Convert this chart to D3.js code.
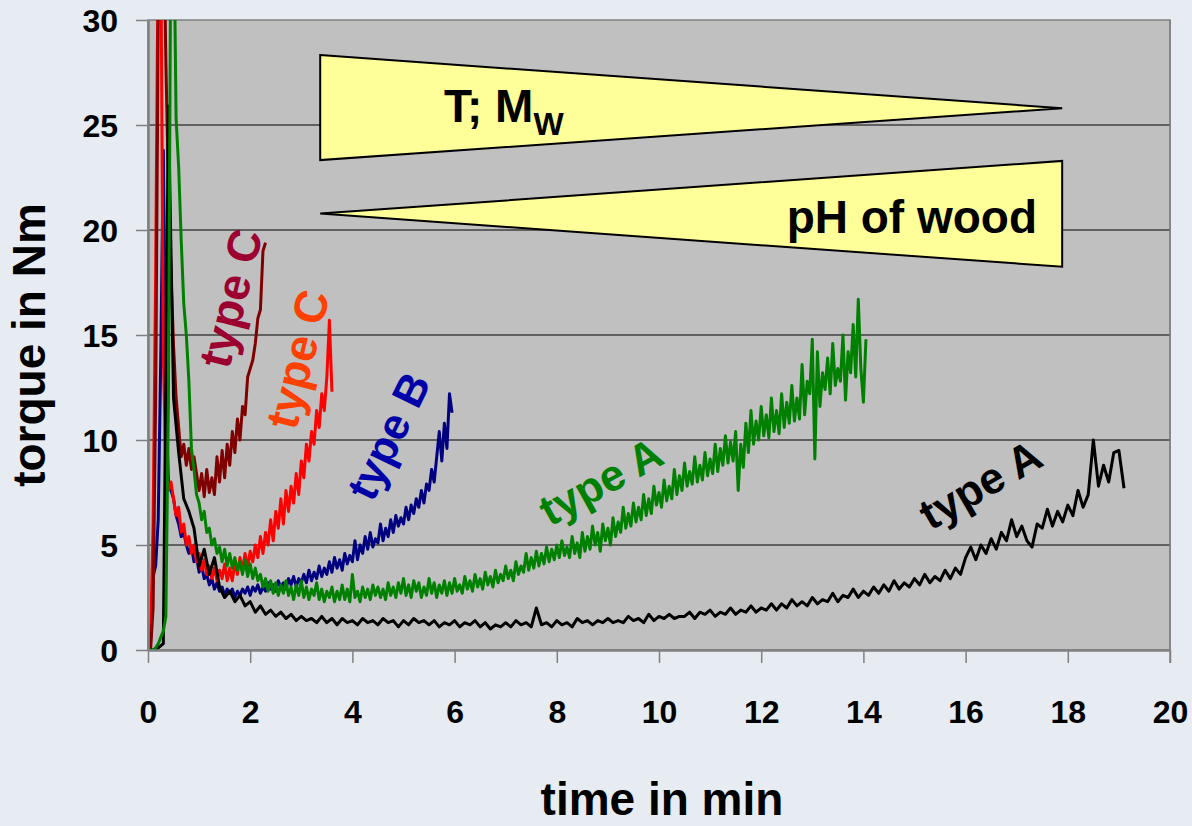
<!DOCTYPE html>
<html>
<head>
<meta charset="utf-8">
<script src="https://cdn.jsdelivr.net/npm/d3@7"></script>
<style>
  html, body { margin: 0; padding: 0; background: #e6ecf1; }
  svg { display: block; font-family: "Liberation Sans", Arial, sans-serif; font-weight: bold; }
</style>
</head>
<body>
<div id="chart"></div>
<script>
// torque readings in Nm, sampled every STEP_FINE / STEP_COARSE minutes from t = 0
const STEP_FINE = 0.05;
const STEP_COARSE = 0.1;

const redTypeC = [0, 0.5, 6, 18, 34, 34, 14, 8.5, 7.6, 8.0, 7.2, 6.4, 6.8, 5.6, 6.0, 5.0,
  5.4, 4.6, 5.0, 4.2, 4.6, 3.8, 4.3, 3.6, 4.0, 3.4, 3.9, 3.3, 3.8, 3.4, 4.1, 3.3, 3.9, 3.3,
  4.2, 3.6, 4.4, 3.8, 4.6, 3.9, 4.7, 4.2, 5.0, 4.4, 5.4, 4.6, 5.6, 5.0, 6.2, 5.2, 6.6, 5.8,
  7.2, 6.0, 7.6, 6.6, 7.8, 7.0, 8.4, 7.4, 9.0, 8.2, 9.8, 9.0, 10.4, 9.8, 11.4, 10.6, 12.2,
  11.4, 13.0, 15.7, 12.3];

const darkRedTypeC = [0, 0, 2, 12, 30, 36, 36, 28, 22, 18, 14.5, 12.0, 10.6, 9.2, 9.8, 8.8,
  9.6, 8.6, 9.2, 8.4, 7.6, 8.4, 7.3, 8.6, 7.5, 8.2, 7.4, 9.2, 8.0, 9.5, 8.2, 9.8, 8.8, 10.4,
  9.4, 11.0, 10.0, 11.6, 11.2, 13.0, 13.4, 13.8, 14.6, 15.8, 16.2, 19.0, 19.4];

const navyTypeB = [0, 0.3, 3.5, 4.0, 6.2, 14, 23.8, 12, 8.0, 7.6, 7.2, 6.4, 6.0, 5.4, 5.6,
  5.0, 4.6, 4.9, 4.2, 4.4, 3.7, 4.0, 3.4, 3.6, 3.1, 3.4, 2.9, 3.2, 2.8, 3.0, 2.6, 2.9, 2.7,
  2.9, 2.5, 2.8, 2.6, 2.9, 2.7, 3.0, 2.6, 3.0, 2.8, 3.1, 2.7, 3.0, 2.8, 3.2, 2.9, 3.1, 2.8,
  3.3, 3.0, 3.2, 2.9, 3.4, 3.1, 3.5, 3.0, 3.4, 3.2, 3.6, 3.2, 3.8, 3.3, 3.7, 3.4, 4.0, 3.5,
  3.9, 3.6, 4.2, 3.7, 4.4, 3.9, 4.3, 3.8, 4.6, 4.1, 4.5, 4.2, 5.2, 4.3, 5.0, 4.6, 5.4, 4.8,
  5.6, 4.9, 5.3, 5.1, 6.0, 5.2, 5.8, 5.4, 6.2, 5.6, 6.4, 5.9, 6.3, 6.0, 6.8, 6.2, 6.9, 6.5,
  7.2, 6.8, 7.6, 7.0, 7.9, 7.6, 8.6, 8.0, 9.2, 10.4, 9.0, 10.8, 9.6, 12.2, 11.3];

const greenTypeA = [0, 0, 0, 0.1, 0.3, 0.6, 0.9, 1.6, 12, 36, 36, 25.3, 23, 19.5, 16.5, 15.0,
  12.8, 9.6, 8.6, 7.4, 7.0, 6.2, 6.6, 5.6, 5.8, 5.0, 5.3, 4.6, 4.9, 4.2, 4.8, 4.0, 4.6, 3.9,
  4.4, 3.8, 4.2, 3.6, 4.3, 3.5, 4.1, 3.4, 3.9, 3.3, 3.6, 3.0, 3.4, 2.8, 3.3, 2.7, 3.2, 2.6,
  3.1, 2.7, 3.3, 2.6, 3.0, 2.4, 3.1, 2.6, 3.3, 2.5, 3.0, 2.4, 2.9, 2.6, 3.2, 2.4, 2.9, 2.3,
  2.8, 2.5, 3.0, 2.3, 2.8, 2.4, 3.1, 2.4, 2.9, 2.3, 3.6, 2.5, 2.8, 2.3, 3.0, 2.5, 2.9, 2.4,
  3.1, 2.6, 3.0, 2.5, 2.9, 2.4, 3.2, 2.6, 3.0, 2.5, 3.2, 2.7, 3.4, 2.6, 3.1, 2.5, 3.3, 2.8,
  3.2, 2.5, 3.0, 2.6, 3.4, 2.7, 3.2, 2.5, 3.1, 2.7, 3.3, 2.6, 3.2, 2.7, 3.4, 2.8, 3.1, 2.7,
  3.5, 2.9, 3.3, 2.8, 3.6, 3.0, 3.4, 2.9, 3.7, 3.1, 3.5, 3.0, 3.8, 3.2, 3.6, 3.3, 4.0, 3.4,
  3.8, 3.3, 4.2, 3.6, 4.0, 3.7, 4.6, 3.8, 4.4, 3.9, 4.7, 4.0, 4.6, 4.1, 4.9, 4.2, 4.8, 4.3,
  5.0, 4.4, 5.2, 4.5, 4.9, 4.4, 5.4, 4.6, 5.1, 4.4, 5.6, 4.7, 5.4, 4.8, 5.9, 5.0, 5.6, 4.7,
  6.0, 5.2, 5.8, 5.0, 6.3, 5.4, 6.1, 5.6, 6.8, 5.8, 6.5, 5.9, 7.0, 6.1, 6.8, 6.2, 7.4, 6.4,
  7.2, 6.5, 7.8, 6.9, 7.5, 6.8, 8.1, 7.1, 7.8, 7.2, 8.6, 7.4, 8.3, 7.6, 8.9, 7.8, 8.5, 7.9,
  9.2, 8.0, 8.8, 8.1, 9.4, 8.3, 9.1, 8.4, 9.8, 8.5, 9.6, 8.8, 10.2, 8.9, 9.9, 9.0, 10.4, 7.6,
  9.8, 8.7, 10.8, 9.4, 11.4, 9.8, 10.9, 10.0, 11.6, 10.2, 11.2, 10.1, 12.0, 10.4, 11.4, 10.3,
  12.2, 10.6, 11.8, 10.8, 12.6, 10.9, 12.0, 11.0, 13.6, 11.2, 12.8, 12.2, 14.8, 9.1, 14.2,
  11.6, 13.2, 12.4, 13.9, 12.2, 14.6, 12.6, 13.4, 12.8, 15.0, 11.9, 14.2, 13.2, 15.5, 13.0,
  16.7, 13.4, 11.8, 14.8];

const blackTypeA = [0, 0, 0.1, 0.3, 25.9, 12, 9.4, 7.2, 6.6, 5.8, 4.0, 4.8, 3.6, 4.4, 3.0,
  2.5, 2.8, 2.3, 2.6, 2.1, 2.3, 1.8, 2.1, 1.7, 1.9, 1.6, 1.8, 1.5, 1.7, 1.4, 1.6, 1.4, 1.5,
  1.3, 1.6, 1.3, 1.5, 1.2, 1.5, 1.3, 1.4, 1.2, 1.5, 1.3, 1.4, 1.2, 1.5, 1.3, 1.4, 1.1, 1.4,
  1.2, 1.5, 1.3, 1.4, 1.2, 1.4, 1.1, 1.3, 1.2, 1.4, 1.1, 1.3, 1.2, 1.4, 1.1, 1.3, 1.0, 1.2,
  1.1, 1.3, 1.1, 1.4, 1.2, 1.3, 1.1, 2.0, 1.2, 1.3, 1.1, 1.4, 1.2, 1.3, 1.1, 1.5, 1.3, 1.4,
  1.2, 1.4, 1.3, 1.5, 1.3, 1.4, 1.3, 1.6, 1.4, 1.5, 1.3, 1.7, 1.4, 1.6, 1.5, 1.7, 1.5, 1.6,
  1.6, 1.8, 1.5, 1.8, 1.7, 1.9, 1.6, 1.8, 1.7, 2.0, 1.7, 1.9, 1.8, 2.1, 1.8, 2.0, 1.9, 2.2,
  1.9, 2.2, 2.0, 2.4, 2.1, 2.3, 2.1, 2.5, 2.2, 2.4, 2.3, 2.7, 2.3, 2.6, 2.5, 2.9, 2.5, 2.8,
  2.6, 3.0, 2.7, 3.1, 2.8, 3.3, 2.9, 3.2, 3.0, 3.4, 3.1, 3.6, 3.2, 3.5, 3.3, 3.8, 3.4, 3.9,
  3.6, 4.4, 4.9, 4.3, 5.0, 4.6, 5.3, 4.8, 5.6, 5.2, 6.2, 5.4, 5.9, 5.2, 4.9, 6.0, 5.8, 6.7,
  5.9, 6.6, 6.1, 6.9, 6.4, 7.6, 6.8, 7.4, 10.0, 7.8, 8.8, 8.0, 9.4, 9.5, 7.7];

// axis ticks
const xTicks = [0, 2, 4, 6, 8, 10, 12, 14, 16, 18, 20];
const yTicks = [0, 5, 10, 15, 20, 25, 30];

// wedge annotations, in data units [min, Nm]
const wedgeTop = [[3.37, 28.33], [17.89, 25.8], [3.37, 23.33]];
const wedgeBottom = [[3.37, 20.78], [17.89, 23.29], [17.89, 18.25]];

// curve labels: text, colour, position [min, Nm], angle, size
const curveLabels = [
  {text: "type C", color: "#9c0030", at: [1.7, 16.7], angle: -76, size: 46},
  {text: "type C", color: "#ff4000", at: [3.01, 13.8], angle: -76, size: 46},
  {text: "type B", color: "#0000a8", at: [4.78, 10.1], angle: -64, size: 44},
  {text: "type A", color: "#008000", at: [8.9, 7.85], angle: -29, size: 44},
  {text: "type A", color: "#000000", at: [16.33, 7.7], angle: -30, size: 44},
];

const WIDTH = 1192, HEIGHT = 826;
const margin = {left: 148, right: 22, top: 20, bottom: 176};

let svg = d3.select("#chart").append("svg")
  .attr("width", WIDTH).attr("height", HEIGHT);

svg.append("rect").attr("width", WIDTH).attr("height", HEIGHT).attr("fill", "#e6ecf1");

let x = d3.scaleLinear().domain([0, 20]).range([margin.left, WIDTH - margin.right]);
let y = d3.scaleLinear().domain([0, 30]).range([HEIGHT - margin.bottom, margin.top]);

// plot area
svg.append("rect")
  .attr("x", x(0)).attr("y", y(30))
  .attr("width", x(20) - x(0)).attr("height", y(0) - y(30))
  .attr("fill", "#c0c0c0").attr("stroke", "#808080").attr("stroke-width", 1.5);

svg.append("clipPath").attr("id", "plot-clip").append("rect")
  .attr("x", x(0)).attr("y", y(30))
  .attr("width", x(20) - x(0)).attr("height", y(0) - y(30));

// horizontal gridlines
svg.append("g").selectAll("line").data(yTicks.filter(d => d > 0 && d < 30)).enter()
  .append("line")
    .attr("x1", x(0)).attr("x2", x(20))
    .attr("y1", d => y(d)).attr("y2", d => y(d))
    .attr("stroke", "#000").attr("stroke-width", 1.2);

// wedges
let wedgeLine = d3.line().x(d => x(d[0])).y(d => y(d[1]));
[wedgeTop, wedgeBottom].forEach(function(w) {
  svg.append("path")
    .attr("d", wedgeLine(w) + "Z")
    .attr("fill", "#ffff99").attr("stroke", "#000").attr("stroke-width", 2)
    .attr("stroke-linejoin", "miter");
});

let tm = svg.append("text").attr("x", 444).attr("y", 122).attr("font-size", 46);
tm.append("tspan").text("T; M");
tm.append("tspan").text("W").attr("font-size", 32).attr("dy", 13);

svg.append("text").text("pH of wood")
  .attr("x", 1037).attr("y", 233).attr("text-anchor", "end").attr("font-size", 46);

// curves
let series = [
  {values: navyTypeB, step: STEP_FINE, color: "#000080"},
  {values: redTypeC, step: STEP_FINE, color: "#ff0000"},
  {values: darkRedTypeC, step: STEP_FINE, color: "#800000"},
  {values: blackTypeA, step: STEP_COARSE, color: "#000000"},
  {values: greenTypeA, step: STEP_FINE, color: "#008000"},
];

let curves = svg.append("g").attr("clip-path", "url(#plot-clip)");
series.forEach(function(s) {
  let line = d3.line()
    .x((d, i) => x(i * s.step))
    .y(d => y(d));
  curves.append("path")
    .attr("d", line(s.values))
    .attr("fill", "none")
    .attr("stroke", s.color)
    .attr("stroke-width", 3)
    .attr("stroke-linejoin", "round");
});

// axes
let xAxis = svg.append("g")
  .attr("transform", `translate(0,${y(0)})`)
  .call(d3.axisBottom(x).tickValues(xTicks).tickSize(13).tickPadding(37).tickSizeOuter(0));
let yAxis = svg.append("g")
  .attr("transform", `translate(${x(0)},0)`)
  .call(d3.axisLeft(y).tickValues(yTicks).tickSize(12).tickPadding(18).tickSizeOuter(0));

[xAxis, yAxis].forEach(function(a) {
  a.select(".domain").attr("stroke", "#808080").attr("stroke-width", 2.5);
  a.selectAll(".tick line").attr("stroke", "#808080").attr("stroke-width", 1.5);
  a.selectAll(".tick text")
    .attr("font-size", 32).attr("font-family", "Liberation Sans, Arial, sans-serif")
    .attr("font-weight", "bold").attr("fill", "#000");
});
yAxis.selectAll(".tick text").attr("dy", "0.36em");

// right border tick
svg.append("line")
  .attr("x1", x(20)).attr("x2", x(20)).attr("y1", y(30)).attr("y2", y(0) + 13)
  .attr("stroke", "#808080").attr("stroke-width", 1.5);

// curve labels
svg.append("g").selectAll("text").data(curveLabels).enter()
  .append("text")
    .text(d => d.text)
    .attr("fill", d => d.color)
    .attr("font-size", d => d.size)
    .attr("text-anchor", "middle")
    .attr("dy", "0.25em")
    .attr("transform", d => `translate(${x(d.at[0])},${y(d.at[1])}) rotate(${d.angle})`);

// axis titles
svg.append("text").text("time in min")
  .attr("x", 662).attr("y", 815).attr("text-anchor", "middle").attr("font-size", 46);
svg.append("text").text("torque in Nm")
  .attr("transform", "translate(45,345) rotate(-90)")
  .attr("text-anchor", "middle").attr("font-size", 46);
</script>
</body>
</html>
